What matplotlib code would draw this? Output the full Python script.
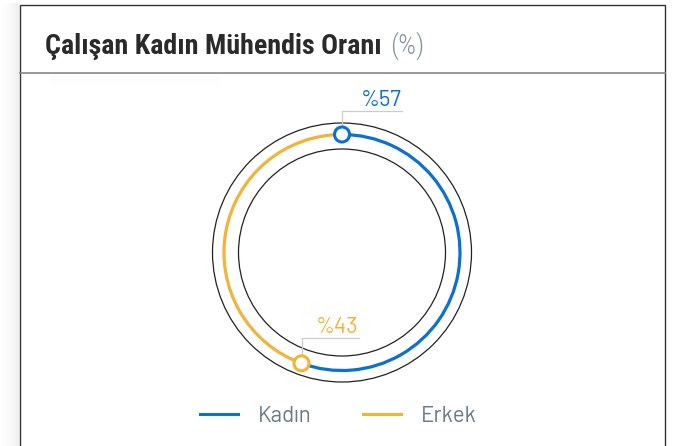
import numpy as np
import matplotlib.pyplot as plt
from matplotlib.patches import Arc, Circle, Rectangle

# Veriler
categories = ['Kadın', 'Erkek']
shares = [57, 43]
colors = ['#0A70D2', '#F2B33B']
title_main = 'Çalışan Kadın Mühendis Oranı'
title_unit = '(%)'

W, H = 673, 446
fig = plt.figure(figsize=(W / 100, H / 100), dpi=100)
ax = fig.add_axes([0, 0, 1, 1])
ax.set_xlim(0, W)
ax.set_ylim(0, H)
ax.set_aspect('equal')
ax.axis('off')

def py(y):
    return H - y

# kart ve gölge
for i, a in enumerate([0.06, 0.045, 0.03, 0.02, 0.012, 0.006]):
    ax.add_patch(Rectangle((19 - 3 * (i + 1), 0), 3, py(3), color='black', alpha=a, lw=0))
ax.add_patch(Rectangle((20, -5), 645, py(5) + 5, facecolor='white', edgecolor='#333333', lw=1.0))
ax.plot([20, 665], [py(73), py(73)], color='#888888', lw=1.2)
for i, a in enumerate([0.012, 0.008, 0.004]):
    ax.add_patch(Rectangle((50, py(76 + 4 * (i + 1))), 170, 4, color='black', alpha=a, lw=0))

# başlık
t = ax.text(45, py(54), title_main, fontsize=20.2, fontweight='bold', color='#2a2a2a',
            family='Roboto Condensed', va='baseline', ha='left')
fig.canvas.draw()
bb = t.get_window_extent()
ax.text(bb.x1 + 9, py(54), title_unit, fontsize=20.2, fontweight='light', color='#8a95a0',
        family='Roboto Condensed', va='baseline', ha='left')

# halka
cx, cy = 342, py(252.5)
r_out, r_in, r_ring = 129.5, 103.5, 118
total_sweep = 351.0
ax.add_patch(Circle((cx, cy), r_out, fill=False, ec='#222222', lw=0.9))
ax.add_patch(Circle((cx, cy), r_in, fill=False, ec='#222222', lw=0.9))

start = 90.0
starts = []
for i, (share, col) in enumerate(zip(shares, colors)):
    sweep = share / sum(shares) * total_sweep
    end = start - sweep if i < len(shares) - 1 else 90.0 - 360.0
    ax.add_patch(Arc((cx, cy), 2 * r_ring, 2 * r_ring, theta1=end, theta2=start,
                     color=col, lw=2.3, zorder=3))
    starts.append(start)
    start = end

# işaretçiler ve etiketler
leaders = [(24, 60), (25, 57)]
for a0, share, col, (up, run) in zip(starts, shares, colors, leaders):
    th = np.deg2rad(a0)
    mx, my = cx + r_ring * np.cos(th), cy + r_ring * np.sin(th)
    ax.plot([mx, mx, mx + run], [my, my + up, my + up], color='#cccccc', lw=0.9, zorder=2)
    ax.add_patch(Circle((mx, my), 7.5, facecolor='white', edgecolor=col, lw=2.2, zorder=5))
    ax.text(mx + run, my + up + 5, f'%{share}', color=col, fontsize=16,
            family='Barlow', ha='right', va='baseline')

# lejant
leg_x = [200, 363]
for x0, lab, col in zip(leg_x, categories, colors):
    ax.plot([x0, x0 + 38], [py(414), py(414)], color=col, lw=2.2)
    ax.text(x0 + 58, py(422), lab, color='#6b7783', fontsize=16, family='Barlow',
            va='baseline', ha='left')

fig.savefig('out.png', dpi=100)
